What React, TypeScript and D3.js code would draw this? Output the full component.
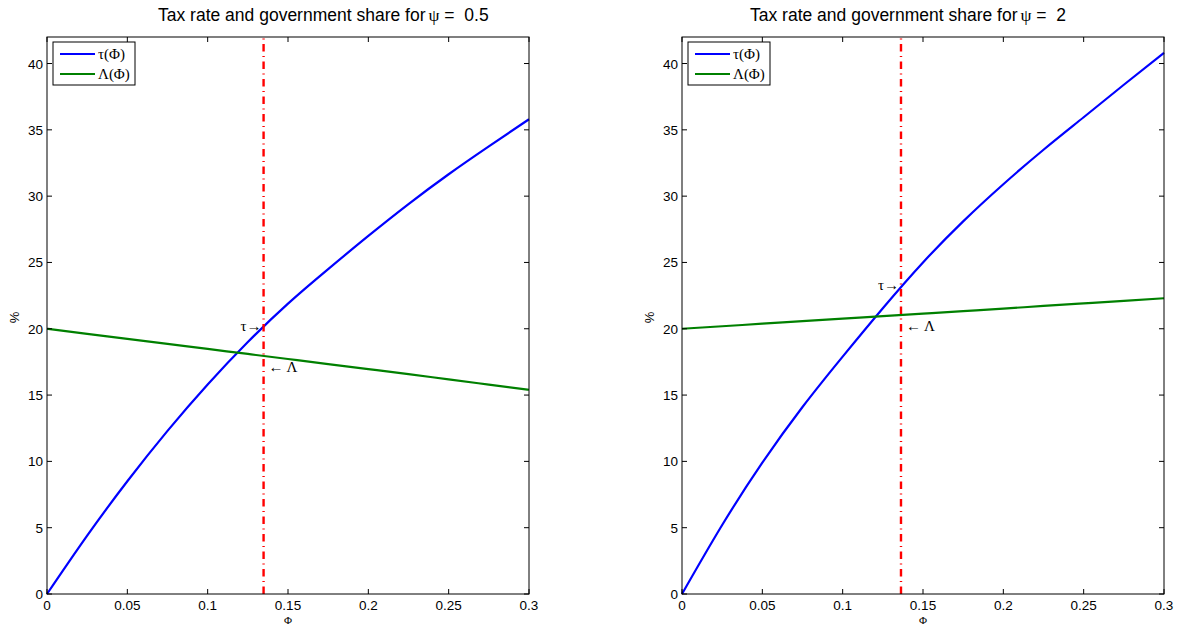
import * as d3 from "d3";

// Φ grid shared by both panels
const PHI = [0, 0.025, 0.05, 0.075, 0.1, 0.125, 0.15, 0.175, 0.2, 0.225, 0.25, 0.275, 0.3];

// ψ = 0.5
const TAU_LEFT = [0, 4.4, 8.5, 12.3, 15.8, 19.0, 21.9, 24.5, 27.0, 29.4, 31.65, 33.75, 35.8];
const LAMBDA_LEFT = [20.0, 19.62, 19.24, 18.86, 18.48, 18.1, 17.72, 17.34, 16.96, 16.58, 16.18, 15.79, 15.4];

// ψ = 2
const TAU_RIGHT = [0, 5.2, 9.9, 14.1, 17.9, 21.55, 25.0, 28.1, 30.9, 33.5, 35.95, 38.4, 40.8];
const LAMBDA_RIGHT = [20.0, 20.19, 20.38, 20.57, 20.76, 20.95, 21.14, 21.33, 21.52, 21.72, 21.91, 22.1, 22.3];

// equilibrium markers: [ψ=0.5, ψ=2]
const PSI_LABELS = ["0.5", "2"];
const PHI_STAR = [0.1348, 0.1363];
const TAU_STAR = [20.2, 23.3];
const LAMBDA_STAR = [17.93, 21.05];

const X_TICKS = [0, 0.05, 0.1, 0.15, 0.2, 0.25, 0.3];
const Y_TICKS = [0, 5, 10, 15, 20, 25, 30, 35, 40];

const SANS = "'Liberation Sans', Arial, Helvetica, sans-serif";
const SERIF = "'Liberation Serif', 'Times New Roman', serif";

interface PanelProps {
  left: number;
  titleDx: number;
  psi: string;
  tau: number[];
  lambda: number[];
  phiStar: number;
  tauStar: number;
  lambdaStar: number;
}

const TOP = 37;
const BOTTOM = 594;
const WIDTH = 482;

function Panel({ left, titleDx, psi, tau, lambda, phiStar, tauStar, lambdaStar }: PanelProps) {
  const x = d3.scaleLinear().domain([0, 0.3]).range([left, left + WIDTH]);
  const y = d3.scaleLinear().domain([0, 42]).range([BOTTOM, TOP]);

  const line = d3
    .line<number>()
    .x((_, i) => x(PHI[i]))
    .y((d) => y(d))
    .curve(d3.curveNatural);

  const tick = 5;
  const right = left + WIDTH;

  return (
    <g>
      <text
        x={left + titleDx}
        y={21}
        fontFamily={SANS}
        fontSize={17.5}
        fill="#000"
      >
        Tax rate and government share for
        <tspan fontFamily={SERIF} dx={3}>ψ</tspan>
        <tspan xmlSpace="preserve"> =  {psi}</tspan>
      </text>

      {/* curves */}
      <path d={line(tau) ?? ""} fill="none" stroke="#0000ff" strokeWidth={2.2} />
      <path d={line(lambda) ?? ""} fill="none" stroke="#008000" strokeWidth={2.2} />

      {/* equilibrium line */}
      <line
        x1={x(phiStar)}
        x2={x(phiStar)}
        y1={y(0)}
        y2={y(42)}
        stroke="#ff0000"
        strokeWidth={2.4}
        strokeDasharray="7.5 4.5 1 4.5"
      />

      <text
        x={x(phiStar) - 2}
        y={y(tauStar) + 5}
        textAnchor="end"
        fontFamily={SERIF}
        fontSize={15}
      >
        τ→
      </text>
      <text
        x={x(phiStar) + 5}
        y={y(lambdaStar) + 16}
        fontFamily={SERIF}
        fontSize={15}
      >
        ← Λ
      </text>

      {/* axes box */}
      <rect
        x={left}
        y={TOP}
        width={WIDTH}
        height={BOTTOM - TOP}
        fill="none"
        stroke="#000"
        strokeWidth={1}
      />
      {X_TICKS.map((t) => (
        <g key={`x${t}`}>
          <line x1={x(t)} x2={x(t)} y1={BOTTOM} y2={BOTTOM - tick} stroke="#000" />
          <line x1={x(t)} x2={x(t)} y1={TOP} y2={TOP + tick} stroke="#000" />
          <text
            x={x(t)}
            y={BOTTOM + 16}
            textAnchor="middle"
            fontFamily={SANS}
            fontSize={13.5}
          >
            {String(t)}
          </text>
        </g>
      ))}
      {Y_TICKS.map((t) => (
        <g key={`y${t}`}>
          <line x1={left} x2={left + tick} y1={y(t)} y2={y(t)} stroke="#000" />
          <line x1={right} x2={right - tick} y1={y(t)} y2={y(t)} stroke="#000" />
          <text
            x={left - 4}
            y={y(t) + 5}
            textAnchor="end"
            fontFamily={SANS}
            fontSize={13.5}
          >
            {String(t)}
          </text>
        </g>
      ))}

      <text
        x={left + WIDTH / 2}
        y={624}
        textAnchor="middle"
        fontFamily={SERIF}
        fontSize={11}
      >
        Φ
      </text>
      <text
        transform={`translate(${left - 28},${y(21) + 2}) rotate(-90)`}
        textAnchor="middle"
        fontFamily={SANS}
        fontSize={13}
      >
        %
      </text>

      {/* legend */}
      <g transform={`translate(${left + 6},${TOP + 5})`}>
        <rect width={82} height={43} fill="#fff" stroke="#000" strokeWidth={1} />
        <line x1={7} x2={42} y1={12} y2={12} stroke="#0000ff" strokeWidth={2.2} />
        <text x={45} y={17} fontFamily={SERIF} fontSize={15}>τ(Φ)</text>
        <line x1={7} x2={42} y1={32} y2={32} stroke="#008000" strokeWidth={2.2} />
        <text x={45} y={37} fontFamily={SERIF} fontSize={15}>Λ(Φ)</text>
      </g>
    </g>
  );
}

export default function App() {
  return (
    <svg
      width={1177}
      height={626}
      style={{ position: "absolute", left: 0, top: 0, background: "#fff" }}
    >
      <rect width={1177} height={626} fill="#fff" />
      <Panel
        left={47}
        titleDx={111}
        psi={PSI_LABELS[0]}
        tau={TAU_LEFT}
        lambda={LAMBDA_LEFT}
        phiStar={PHI_STAR[0]}
        tauStar={TAU_STAR[0]}
        lambdaStar={LAMBDA_STAR[0]}
      />
      <Panel
        left={682}
        titleDx={68}
        psi={PSI_LABELS[1]}
        tau={TAU_RIGHT}
        lambda={LAMBDA_RIGHT}
        phiStar={PHI_STAR[1]}
        tauStar={TAU_STAR[1]}
        lambdaStar={LAMBDA_STAR[1]}
      />
    </svg>
  );
}
